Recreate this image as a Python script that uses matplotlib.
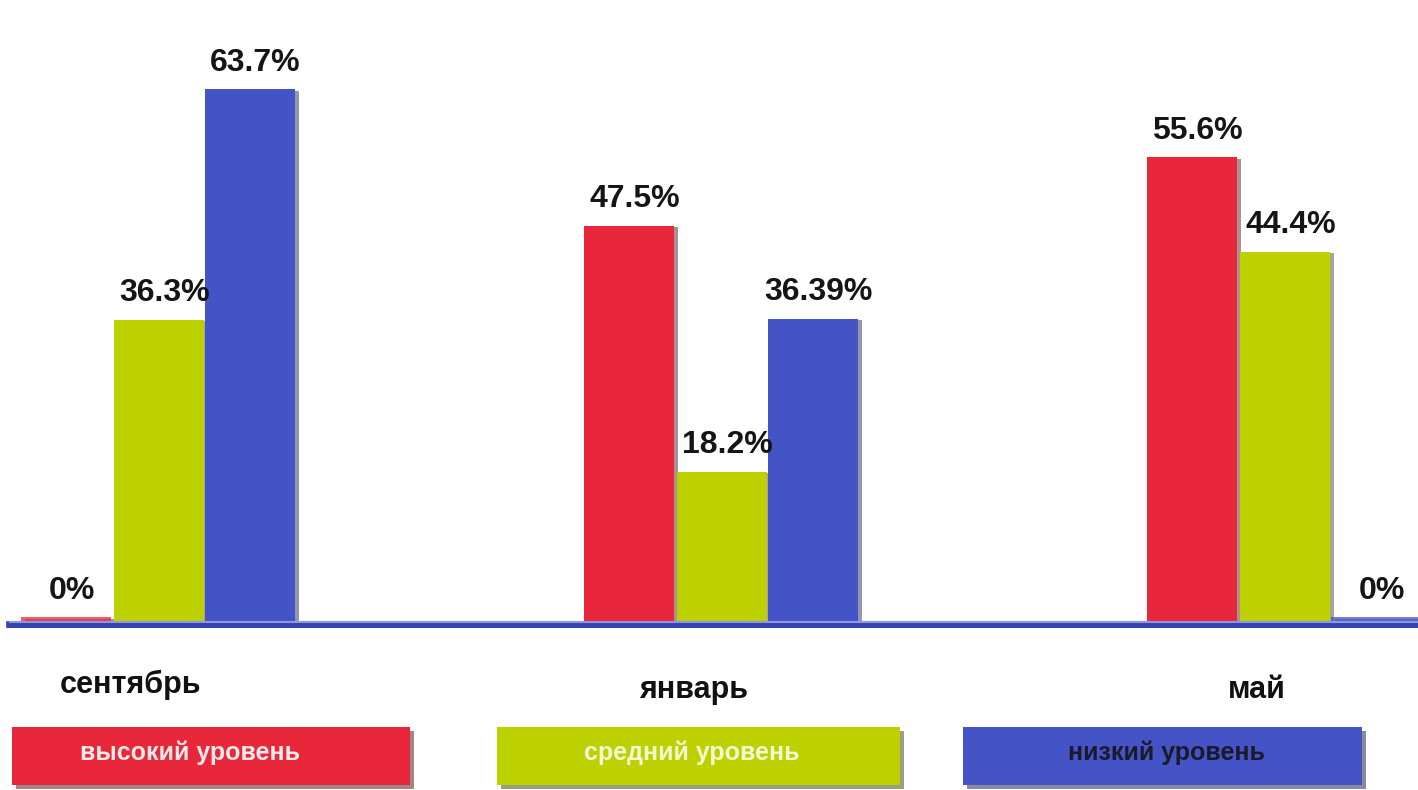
import matplotlib
matplotlib.use("Agg")
import matplotlib.pyplot as plt
import matplotlib.patheffects as pe
from matplotlib.patches import Rectangle
import numpy as np

months = ["сентябрь", "январь", "май"]
series_names = ["высокий уровень", "средний уровень", "низкий уровень"]
high = [0, 47.5, 55.6]
medium = [36.3, 18.2, 44.4]
low = [63.7, 36.39, 0]
value_labels = [["0%", "47.5%", "55.6%"],
                ["36.3%", "18.2%", "44.4%"],
                ["63.7%", "36.39%", "0%"]]

colors = ["#E8273A", "#BDD000", "#4453C6"]
legend_text_colors = ["#FBE9E9", "#F4F8D0", "#1A1A2A"]

FONT = ["Liberation Sans Narrow", "Liberation Sans", "DejaVu Sans"]
plt.rcParams["font.family"] = FONT

W, H = 1418, 790
fig = plt.figure(figsize=(W / 100, H / 100), dpi=100)
base_px = 628
ax = fig.add_axes([0, (H - base_px) / H, 1, base_px / H])
ax.set_axis_off()

x = np.arange(len(months))
width = 0.16
offsets = [-0.165, 0.0, 0.162]
px_per_unit = 8.45
ax.set_ylim(-0.35, base_px / px_per_unit)
ax.set_xlim(-0.282, 2.236)

shadow = [pe.SimplePatchShadow(offset=(3, -1), alpha=0.45), pe.Normal()]
for i, (vals, col) in enumerate(zip([high, medium, low], colors)):
    heights = [v if v > 0 else 0.9 for v in vals]
    bars = ax.bar(x + offsets[i], heights, width, color=col, zorder=2)
    for b, v in zip(bars, vals):
        b.set_path_effects(shadow)
        if v == 0:
            b.set_alpha(0.75)
    for xi, h, lab in zip(x + offsets[i], heights, value_labels[i]):
        ax.text(xi + 0.01, h + 1.4, lab, ha="center", va="bottom",
                fontsize=23, fontweight="bold", color="#151515",
                family=FONT, zorder=4)

ax.axhline(0, xmin=0.007, xmax=1, color="#3443B0", linewidth=5.5, zorder=3)
ax.axhline(0.4, xmin=0.007, xmax=1, color="#8E98E0", linewidth=1.5, zorder=3)

# month labels
label_ys = [685, 690, 690]
for xi, m, ly in zip(x, months, label_ys):
    px = ax.transData.transform((xi - 0.05, 0))[0] / W
    fig.text(px, 1 - ly / H, m, ha="center", va="center", fontsize=22,
             fontweight="bold", color="#111111", family=FONT)

# legend boxes
boxes = [(12, 410), (497, 900), (963, 1362)]
text_shift = [-21, -7, 4]
for (x0, x1), col, tc, name, dx in zip(boxes, colors, legend_text_colors, series_names, text_shift):
    y0, y1 = 727, 785
    rect = Rectangle((x0 / W, 1 - y1 / H), (x1 - x0) / W, (y1 - y0) / H,
                     transform=fig.transFigure, facecolor=col, edgecolor="none",
                     path_effects=[pe.SimplePatchShadow(offset=(3, -3), alpha=0.5), pe.Normal()])
    fig.add_artist(rect)
    fig.text(((x0 + x1) / 2 + dx) / W, 1 - 753 / H, name, ha="center",
             va="center", fontsize=18, fontweight="bold", color=tc, family=FONT)

fig.savefig("out.png", dpi=100, facecolor="white")
